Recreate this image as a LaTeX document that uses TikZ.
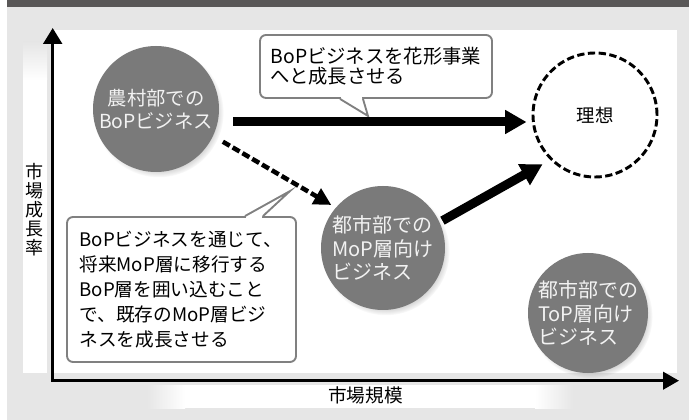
\documentclass[tikz,border=0pt]{standalone}
\usepackage{fontspec}
\setmainfont{Noto Sans CJK JP}
\usetikzlibrary{arrows.meta,shadows}
\XeTeXlinebreaklocale "ja"
\XeTeXlinebreakskip=0pt plus 3pt
\definecolor{bandgray}{HTML}{595757}
\definecolor{bggray}{HTML}{E6E6E6}
\definecolor{discgray}{HTML}{7A7A7A}
\definecolor{disctext}{HTML}{F2F2F2}
\definecolor{boxline}{HTML}{808080}
\begin{document}
\begin{tikzpicture}[x=0.75pt,y=-0.75pt,
  discnode/.style={circle, fill=discgray, text=disctext, inner sep=0pt, align=left,
    font=\fontsize{15pt}{17.5pt}\selectfont,
    circular drop shadow={shadow xshift=2pt, shadow yshift=-2.5pt, opacity=0.45, shadow scale=1.03}},
  idealnode/.style={circle, fill=white, draw=black, line width=2.2pt, dash pattern=on 5.5pt off 2.6pt,
    minimum size=93pt, inner sep=0pt, font=\fontsize{13.8pt}{15pt}\selectfont},
  calloutbox/.style={rectangle, rounded corners=4.5pt, fill=white, draw=boxline, line width=1.4pt, inner sep=0pt, align=left},
  tailline/.style={draw=boxline, line width=1.4pt, line join=miter},
  bigarrow/.style={line width=6.75pt, -{Triangle[length=16pt,width=17pt]}},
  dasharrow/.style={line width=3.4pt, dash pattern=on 6pt off 2.5pt, -{Triangle[length=13pt,width=13pt]}},
  axisline/.style={line width=2.4pt, line join=miter, {Triangle[length=12pt,width=14pt]}-{Triangle[length=12pt,width=13pt]}},
  axislabel/.style={font=\fontsize{14pt}{14.25pt}\selectfont, inner sep=0pt, align=center}
]
\useasboundingbox (0,0) rectangle (689,420);
% background
\fill[white] (0,0) rectangle (689,420);
\fill[bandgray] (7,0) rectangle (689,7.5);
\fill[bggray] (7,7.5) rectangle (689,420);
\shade[top color=bggray,bottom color=white] (23,42) rectangle (47,80);
\fill[white] (23,80) rectangle (47,373);
\shade[left color=bggray,right color=white] (147,385) rectangle (185,408);
\fill[white] (185,385) rectangle (535,408);
\shade[left color=white,right color=bggray] (535,385) rectangle (573,408);
\fill[white] (54,30) rectangle (677,373);
% axes
\coordinate (O) at (52.7,380.7);
\coordinate (ytip) at (52.7,28);
\coordinate (xtip) at (679,380.7);
\draw[axisline] (ytip) -- (O) -- (xtip);
\node[axislabel, font=\fontsize{13.5pt}{14.25pt}\selectfont] (ylab) at (34,210) {市\\場\\成\\長\\率};
\node[axislabel] (xlab) at (365.5,395) {市場規模};
% callout 1
\node[calloutbox, minimum width=174pt, minimum height=47.25pt,
  font=\fontsize{14.5pt}{15.3pt}\selectfont] (co1) at (376,66.5)
  {BoPビジネスを花形事業\\へと成長させる};
\coordinate (t1a) at ([shift={(-36,0)}]co1.south);
\coordinate (t1b) at ([shift={(-13,0)}]co1.south);
\coordinate (t1tip) at ([shift={(-8,17)}]co1.south);
\fill[white] ([shift={(1.2,-2)}]t1a) rectangle ([shift={(-1.2,2)}]t1b);
\fill[white] (t1a) -- (t1tip) -- (t1b) -- cycle;
\draw[tailline] (t1a) -- (t1tip) -- (t1b);
% callout 2
\node[calloutbox, minimum width=171.75pt, minimum height=108.75pt,
  font=\fontsize{14pt}{18.75pt}\selectfont] (co2) at (181.5,289.5)
  {\makebox[153pt][s]{BoPビジネスを通じて、}\\
   \makebox[153pt][s]{将来MoP層に移行する}\\
   \makebox[153pt][s]{BoP層を囲い込むこと}\\
   \makebox[153pt][s]{で、既存のMoP層ビジ}\\
   \makebox[153pt][l]{ネスを成長させる}};
\coordinate (t2a) at ([shift={(63.5,0)}]co2.north);
\coordinate (t2b) at ([shift={(81.5,0)}]co2.north);
\coordinate (t2tip) at ([shift={(108.5,-25)}]co2.north);
\fill[white] ([shift={(1.2,-2)}]t2a) rectangle ([shift={(-1.2,2)}]t2b);
\fill[white] (t2a) -- (t2tip) -- (t2b) -- cycle;
\draw[tailline] (t2a) -- (t2tip) -- (t2b);
% circles
\node[discnode, minimum size=94.5pt, align=center, font=\fontsize{14.5pt}{17.5pt}\selectfont] (c1) at (156,109) {農村部での\\BoPビジネス};
\node[discnode, minimum size=93pt] (c2) at (383,248) {都市部での\\MoP層向け\\ビジネス};
\node[discnode, minimum size=90pt] (c3) at (588,313) {都市部での\\ToP層向け\\ビジネス};
\node[idealnode] (ideal) at (595,115) {理想};
% arrows
\draw[bigarrow] ([shift={(14,13)}]c1.east) -- ([shift={(-5,7)}]ideal.west);
\draw[dasharrow] ([shift={(10,5)}]c1.-26) -- ([shift={(-4,-3)}]c2.140);
\draw[bigarrow] ([shift={(3,-1)}]c2.25) -- ([shift={(-6,6)}]ideal.223);
\end{tikzpicture}
\end{document}
